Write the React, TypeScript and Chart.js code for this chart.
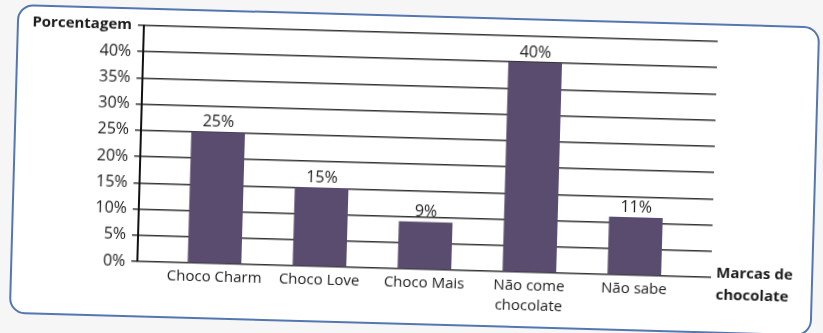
import React, { useEffect, useRef } from "react";
import { Chart, registerables } from "chart.js";

Chart.register(...registerables);

const categories: (string | string[])[] = [
  "Choco Charm",
  "Choco Love",
  "Choco Mais",
  ["Não come", "chocolate"],
  "Não sabe",
];
const percentages = [25, 15, 9, 40, 11];
const yTicks = [0, 5, 10, 15, 20, 25, 30, 35, 40, 45];
const yTitle = "Porcentagem";
const xTitle = ["Marcas de", "chocolate"];

const FONT = "'Open Sans', Lato, sans-serif";
const TEXT = "#1b1b1b";
const GRID = "#333333";
const BAR = "#5a4c6f";

const labelsPlugin = {
  id: "customLabels",
  afterDatasetsDraw(chart: any) {
    const { ctx, chartArea } = chart;
    const meta = chart.getDatasetMeta(0);
    ctx.save();
    ctx.fillStyle = TEXT;
    ctx.font = `16px ${FONT}`;
    ctx.textAlign = "center";
    ctx.textBaseline = "bottom";
    meta.data.forEach((bar: any, i: number) => {
      ctx.fillText(`${percentages[i]}%`, bar.x, bar.y - 2);
    });
    ctx.font = `bold 15px ${FONT}`;
    ctx.textAlign = "left";
    ctx.textBaseline = "middle";
    const x0 = chartArea.right + 5;
    const yb = chartArea.bottom;
    ctx.fillText(xTitle[0], x0, yb - 4);
    ctx.fillText(xTitle[1], x0, yb + 18);
    ctx.restore();
  },
};

export default function App() {
  const ref = useRef<HTMLCanvasElement>(null);

  useEffect(() => {
    if (!ref.current) return;
    const chart = new Chart(ref.current, {
      type: "bar",
      data: {
        datasets: [
          {
            data: percentages.map((v, i) => ({ x: i, y: v })) as any,
            backgroundColor: BAR,
            borderWidth: 0,
            barThickness: 53,
          },
        ],
      },
      options: {
        animation: false,
        responsive: false,
        maintainAspectRatio: false,
        layout: { padding: { left: 0, right: 107, top: 30, bottom: 0 } },
        plugins: { legend: { display: false }, tooltip: { enabled: false } },
        scales: {
          x: {
            type: "linear",
            offset: false,
            min: -0.735,
            max: 4.732,
            grid: { display: false, drawTicks: false, offset: false },
            border: { display: false },
            afterBuildTicks: (scale: any) => {
              scale.ticks = categories.map((_, i) => ({ value: i }));
            },
            afterFit: (scale: any) => {
              scale.height = 67;
            },
            ticks: {
              autoSkip: false,
              maxRotation: 0,
              padding: 4,
              color: TEXT,
              font: { family: FONT, size: 15, lineHeight: 1.3 },
              callback: (v: any) => categories[v as number] as any,
            },
          },
          y: {
            min: 0,
            max: 45,
            afterBuildTicks: (scale: any) => {
              scale.ticks = yTicks.map((v) => ({ value: v }));
            },
            afterFit: (scale: any) => {
              scale.width = 142;
            },
            grid: {
              color: GRID,
              lineWidth: 1.5,
              tickLength: 6,
              drawTicks: true,
            },
            border: { display: true, color: "#111", width: 2 },
            ticks: {
              padding: 6,
              color: TEXT,
              font: (c: any) =>
                c.tick && c.tick.value === 45
                  ? { family: FONT, size: 15, weight: "bold" }
                  : { family: FONT, size: 16 },
              callback: (v: any) => (v === 45 ? yTitle : `${v}%`),
            },
          },
        },
      },
      plugins: [labelsPlugin],
    });
    return () => chart.destroy();
  }, []);

  return (
    <div
      style={{
        position: "absolute",
        left: 0,
        top: 0,
        width: 823,
        height: 333,
        background: "#f6f6f6",
        overflow: "hidden",
      }}
    >
      <div
        style={{
          position: "absolute",
          left: 0,
          top: 0,
          width: 823,
          height: 333,
          transform: "translate(-2px, 3px) rotate(1.6deg)",
          transformOrigin: "411.5px 166.5px",
        }}
      >
        <div
          style={{
            position: "absolute",
            left: 15,
            top: 12,
            width: 799,
            height: 306,
            border: "2px solid #5577b0",
            borderRadius: 16,
            background: "#ffffff",
          }}
        />
        <canvas
          ref={ref}
          width={823}
          height={333}
          style={{ position: "absolute", left: 0, top: 0 }}
        />
      </div>
    </div>
  );
}
